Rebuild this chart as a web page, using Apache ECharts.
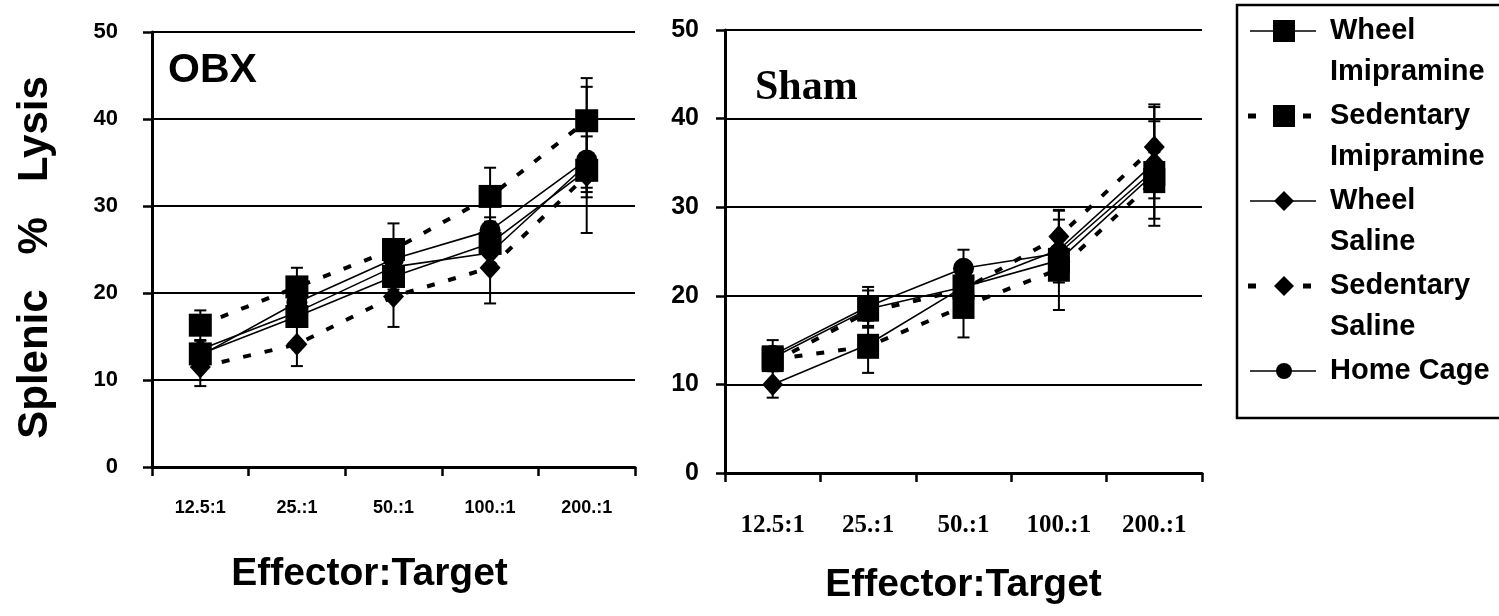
<!DOCTYPE html>
<html>
<head>
<meta charset="utf-8">
<script src="https://cdn.jsdelivr.net/npm/echarts@6/dist/echarts.min.js"></script>
<style>
html,body{margin:0;padding:0;background:#fff;}
#chart{width:1499px;height:616px;}
</style>
</head>
<body>
<div id="chart"></div>
<script>
// ---------- data ----------
const categories = ['12.5:1', '25.:1', '50.:1', '100.:1', '200.:1'];
const seriesNames = ['Wheel Imipramine', 'Sedentary Imipramine', 'Wheel Saline', 'Sedentary Saline', 'Home Cage'];
const legendLines = [['Wheel', 'Imipramine'], ['Sedentary', 'Imipramine'], ['Wheel', 'Saline'], ['Sedentary', 'Saline'], ['Home Cage']];
const yAxisTitle = 'Splenic   %   Lysis';
const xAxisTitle = 'Effector:Target';
const panelTitles = ['OBX', 'Sham'];

// OBX panel (means, % lysis)
const obxWheelImipramine     = [13.0, 17.3, 21.9, 25.7, 34.1];
const obxSedentaryImipramine = [16.3, 20.7, 25.0, 31.1, 39.8];
const obxWheelSaline         = [13.5, 17.8, 23.0, 24.6, 34.8];
const obxSedentarySaline     = [11.5, 14.1, 19.6, 22.9, 33.5];
const obxHomeCage            = [12.8, 18.9, 23.9, 27.2, 35.3];
// OBX error bars (+/-)
const obxErrWheelImipramine     = [1.0, 1.2, 1.5, 2.5, 2.0];
const obxErrSedentaryImipramine = [1.7, 2.2, 3.0, 3.3, 4.9];
const obxErrWheelSaline         = [1.0, 1.5, 1.5, 1.5, 3.2];
const obxErrSedentarySaline     = [2.2, 2.5, 3.5, 4.1, 2.5];
const obxErrHomeCage            = [1.0, 1.5, 1.5, 1.5, 8.4];

// Sham panel
const shamWheelImipramine     = [13.0, 18.5, 21.0, 24.0, 33.8];
const shamSedentaryImipramine = [12.8, 14.3, 18.8, 23.0, 33.0];
const shamWheelSaline         = [10.0, 14.5, 21.0, 25.2, 35.0];
const shamSedentarySaline     = [12.5, 18.2, 20.7, 26.7, 36.8];
const shamHomeCage            = [13.3, 18.8, 23.1, 24.8, 34.2];
const shamErrWheelImipramine     = [1.0, 2.1, 1.5, 5.6, 5.9];
const shamErrSedentaryImipramine = [1.0, 3.0, 3.5, 1.5, 2.0];
const shamErrWheelSaline         = [1.5, 1.0, 1.5, 3.4, 6.3];
const shamErrSedentarySaline     = [1.0, 1.0, 1.5, 3.0, 4.8];
const shamErrHomeCage            = [1.7, 2.2, 2.1, 1.5, 2.0];

// ---------- styles ----------
const SANS = '"Liberation Sans", Arial, sans-serif';
const SERIF = '"Liberation Serif", "Times New Roman", serif';
const styles = [
  {symbol: 'rect', size: [23, 23], dashed: false},
  {symbol: 'rect', size: [23, 23], dashed: true},
  {symbol: 'diamond', size: [21, 23], dashed: false},
  {symbol: 'diamond', size: [21, 23], dashed: true},
  {symbol: 'circle', size: 21, dashed: false}
];

const panels = [
  {values: [obxWheelImipramine, obxSedentaryImipramine, obxWheelSaline, obxSedentarySaline, obxHomeCage],
   errs: [obxErrWheelImipramine, obxErrSedentaryImipramine, obxErrWheelSaline, obxErrSedentarySaline, obxErrHomeCage]},
  {values: [shamWheelImipramine, shamSedentaryImipramine, shamWheelSaline, shamSedentarySaline, shamHomeCage],
   errs: [shamErrWheelImipramine, shamErrSedentaryImipramine, shamErrWheelSaline, shamErrSedentarySaline, shamErrHomeCage]}
];

function errRender(params, api) {
  const x = api.value(0), lo = api.value(1), hi = api.value(2);
  const pLo = api.coord([x, lo]);
  const pHi = api.coord([x, hi]);
  const hw = 6;
  const st = {stroke: '#000', lineWidth: 2};
  return {type: 'group', children: [
    {type: 'line', shape: {x1: pLo[0], y1: pLo[1], x2: pHi[0], y2: pHi[1]}, style: st},
    {type: 'line', shape: {x1: pLo[0] - hw, y1: pLo[1], x2: pLo[0] + hw, y2: pLo[1]}, style: st},
    {type: 'line', shape: {x1: pHi[0] - hw, y1: pHi[1], x2: pHi[0] + hw, y2: pHi[1]}, style: st}
  ]};
}

const series = [];
panels.forEach((p, pi) => {
  const errData = [];
  p.values.forEach((vals, si) => {
    vals.forEach((v, ci) => errData.push([ci, v - p.errs[si][ci], v + p.errs[si][ci]]));
  });
  series.push({
    type: 'custom', name: 'error', xAxisIndex: pi, yAxisIndex: pi,
    renderItem: errRender, data: errData, encode: {x: 0, y: [1, 2]}, z: 3, silent: true
  });
  p.values.forEach((vals, si) => {
    const s = styles[si];
    series.push({
      type: 'line', name: seriesNames[si], xAxisIndex: pi, yAxisIndex: pi,
      data: vals, symbol: s.symbol, symbolSize: pi === 1 && s.symbol === 'rect' ? [22, 25] : s.size,
      showSymbol: true, z: 4,
      itemStyle: {color: '#000', borderWidth: 0},
      lineStyle: s.dashed ? {color: '#000', width: 4, type: [8, 14], cap: 'butt'} : {color: '#000', width: 1.6},
      emphasis: {disabled: true}
    });
  });
});

function makeX(gi, opts) {
  return {
    type: 'category', gridIndex: gi, data: categories, boundaryGap: true,
    axisLine: {show: true, onZero: false, lineStyle: {color: '#000', width: 3}},
    axisTick: {show: true, length: 9, inside: false, lineStyle: {color: '#000', width: 2.5}},
    axisLabel: opts.label,
    name: xAxisTitle, nameLocation: 'middle', nameGap: opts.nameGap,
    nameTextStyle: {color: '#000', fontFamily: SANS, fontWeight: 'bold', fontSize: 39, padding: opts.namePad},
    splitLine: {show: false}
  };
}
function makeY(gi, opts) {
  const y = {
    type: 'value', gridIndex: gi, min: 0, max: 50, interval: 10,
    axisLine: {show: true, lineStyle: {color: '#000', width: 3}},
    axisTick: {show: true, length: 9, inside: false, lineStyle: {color: '#000', width: 2.5}},
    axisLabel: opts.label,
    splitLine: {show: true, lineStyle: {color: '#000', width: 2}}
  };
  if (opts.name) {
    y.name = opts.name; y.nameLocation = 'middle'; y.nameGap = opts.nameGap; y.nameRotate = 90;
    y.nameTextStyle = {color: '#000', fontFamily: SANS, fontWeight: 'bold', fontSize: 42, padding: [0, 16, 0, 0]};
  }
  return y;
}

// legend (drawn as graphic)
const LEG_TOP = 31, LEG_STEP = 85, LEG_LINE = 41;
const legendEls = [];
legendEls.push({type: 'rect', shape: {x: 1237, y: 5, width: 300, height: 413},
  style: {fill: 'none', stroke: '#000', lineWidth: 2.5}, z: 10});
legendLines.forEach((lines, i) => {
  const cy = LEG_TOP + LEG_STEP * i;
  const s = styles[i];
  if (s.dashed) {
    legendEls.push({type: 'rect', shape: {x: 1248, y: cy - 2.5, width: 8, height: 5}, style: {fill: '#000'}, z: 10});
    legendEls.push({type: 'rect', shape: {x: 1303, y: cy - 2.5, width: 8, height: 5}, style: {fill: '#000'}, z: 10});
  } else {
    legendEls.push({type: 'line', shape: {x1: 1250, y1: cy, x2: 1316, y2: cy}, style: {stroke: '#000', lineWidth: 1.6}, z: 10});
  }
  const mx = 1284;
  if (s.symbol === 'rect') {
    legendEls.push({type: 'rect', shape: {x: mx - 11, y: cy - 11, width: 22, height: 22}, style: {fill: '#000'}, z: 11});
  } else if (s.symbol === 'diamond') {
    legendEls.push({type: 'polygon', shape: {points: [[mx, cy - 10], [mx + 10, cy], [mx, cy + 10], [mx - 10, cy]]}, style: {fill: '#000'}, z: 11});
  } else {
    legendEls.push({type: 'circle', shape: {cx: mx, cy: cy, r: 8}, style: {fill: '#000'}, z: 11});
  }
  lines.forEach((t, li) => {
    legendEls.push({type: 'text', x: 1330, y: cy + li * LEG_LINE,
      style: {text: t, fill: '#000', font: 'bold 29px ' + SANS, textVerticalAlign: 'middle', textAlign: 'left'}, z: 11});
  });
});

const option = {
  backgroundColor: '#fff',
  animation: false,
  title: [
    {text: panelTitles[0], left: 163, top: 45, textStyle: {color: '#000', fontFamily: SANS, fontWeight: 'bold', fontSize: 41}},
    {text: panelTitles[1], left: 750, top: 62, textStyle: {color: '#000', fontFamily: SERIF, fontWeight: 'bold', fontSize: 42}}
  ],
  grid: [
    {left: 152, top: 32, width: 483, height: 435, containLabel: false},
    {left: 725, top: 30, width: 477, height: 443, containLabel: false}
  ],
  xAxis: [
    makeX(0, {label: {color: '#000', fontFamily: SANS, fontWeight: 'bold', fontSize: 18, margin: 32}, nameGap: 88, namePad: [0, 48, 0, 0]}),
    makeX(1, {label: {color: '#000', fontFamily: SERIF, fontWeight: 'bold', fontSize: 25, margin: 40}, nameGap: 93, namePad: [0, 0, 0, 0]})
  ],
  yAxis: [
    makeY(0, {label: {color: '#000', fontFamily: SANS, fontWeight: 'bold', fontSize: 22, margin: 34}, name: yAxisTitle, nameGap: 96}),
    makeY(1, {label: {color: '#000', fontFamily: SANS, fontWeight: 'bold', fontSize: 25, margin: 26}})
  ],
  series: series,
  graphic: legendEls
};

const chart = echarts.init(document.getElementById('chart'), null, {renderer: 'canvas'});
chart.setOption(option);
</script>
</body>
</html>
